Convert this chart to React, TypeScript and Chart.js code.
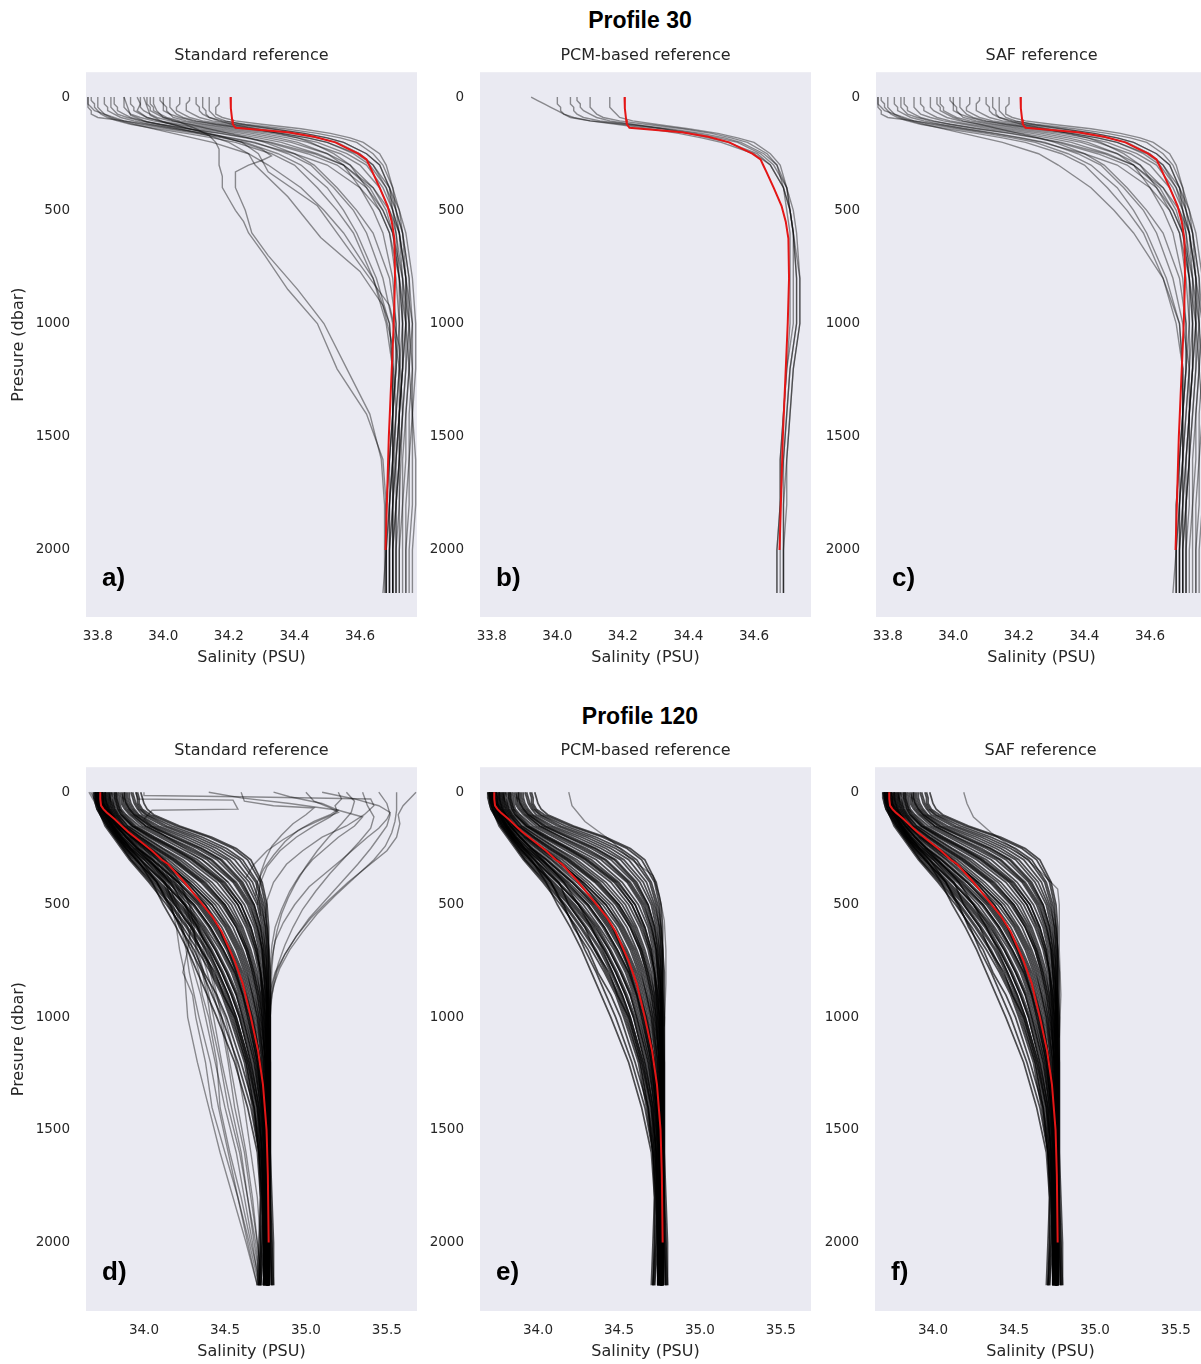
import React, { useEffect, useRef } from "react";
import { Chart, registerables } from "chart.js";

Chart.register(...registerables);

// ---------------- Axis / tick data ----------------
const X_TICKS_30 = [33.8, 34.0, 34.2, 34.4, 34.6];
const X_TICKS_120 = [34.0, 34.5, 35.0, 35.5];
const Y_TICKS = [0, 500, 1000, 1500, 2000];
const X_RANGE_30 = [33.764, 34.774];
const X_RANGE_120 = [33.642, 35.686];
const Y_RANGE_30 = [-110, 2296];
const Y_RANGE_120 = [-111, 2304];

// ---------------- Profile 30 ----------------
const P30_LEVELS = [0, 15, 30, 45, 60, 75, 90, 105, 120, 140, 160, 180, 200, 250, 300, 400, 500, 600, 800, 1000, 1200, 1400, 1600, 1800, 2000, 2190];

const P30_REF_PRES = [0, 50, 100, 120, 135, 145, 155, 175, 200, 225, 250, 275, 300, 330, 400, 480, 550, 625, 800, 1000, 1200, 1500, 1800, 2000];
const P30_REF_SAL = [34.205, 34.206, 34.21, 34.212, 34.22, 34.3, 34.38, 34.46, 34.525, 34.56, 34.595, 34.62, 34.628, 34.638, 34.66, 34.684, 34.697, 34.705, 34.707, 34.703, 34.697, 34.688, 34.682, 34.678];

// SAF reference profiles (panel c)
const P30_SAF = [
  [34.17, 34.17, 34.17, 34.16, 34.16, 34.16, 34.18, 34.22, 34.30, 34.42, 34.51, 34.57, 34.61, 34.66, 34.68, 34.70, 34.71, 34.72, 34.73, 34.73, 34.72, 34.71, 34.70, 34.70, 34.69, 34.69],
  [34.12, 34.12, 34.12, 34.12, 34.13, 34.13, 34.14, 34.18, 34.25, 34.37, 34.47, 34.54, 34.59, 34.64, 34.67, 34.70, 34.72, 34.73, 34.74, 34.74, 34.73, 34.72, 34.71, 34.71, 34.70, 34.70],
  [34.08, 34.08, 34.07, 34.07, 34.07, 34.09, 34.11, 34.15, 34.22, 34.33, 34.43, 34.50, 34.55, 34.62, 34.66, 34.69, 34.71, 34.73, 34.75, 34.75, 34.74, 34.73, 34.72, 34.72, 34.71, 34.71],
  [34.05, 34.05, 34.05, 34.04, 34.04, 34.06, 34.08, 34.12, 34.19, 34.29, 34.39, 34.47, 34.53, 34.60, 34.64, 34.68, 34.70, 34.72, 34.74, 34.76, 34.75, 34.74, 34.74, 34.73, 34.73, 34.73],
  [34.02, 34.02, 34.02, 34.02, 34.03, 34.04, 34.06, 34.10, 34.16, 34.26, 34.36, 34.44, 34.50, 34.58, 34.63, 34.68, 34.71, 34.73, 34.75, 34.76, 34.76, 34.75, 34.75, 34.74, 34.74, 34.74],
  [33.99, 33.99, 34.00, 34.00, 34.00, 34.02, 34.03, 34.07, 34.13, 34.23, 34.33, 34.41, 34.47, 34.56, 34.62, 34.67, 34.70, 34.72, 34.74, 34.74, 34.73, 34.72, 34.71, 34.70, 34.70, 34.70],
  [33.96, 33.96, 33.96, 33.97, 33.97, 33.99, 34.01, 34.05, 34.11, 34.20, 34.30, 34.38, 34.44, 34.54, 34.60, 34.66, 34.69, 34.71, 34.73, 34.74, 34.74, 34.73, 34.72, 34.71, 34.70, 34.70],
  [33.93, 33.93, 33.93, 33.93, 33.94, 33.96, 33.98, 34.02, 34.08, 34.17, 34.27, 34.35, 34.41, 34.50, 34.55, 34.60, 34.64, 34.67, 34.70, 34.71, 34.71, 34.70, 34.69, 34.69, 34.68, 34.68],
  [33.90, 33.90, 33.90, 33.91, 33.91, 33.93, 33.95, 33.99, 34.05, 34.14, 34.24, 34.32, 34.39, 34.50, 34.57, 34.64, 34.68, 34.70, 34.72, 34.73, 34.73, 34.72, 34.72, 34.71, 34.71, 34.71],
  [33.88, 33.88, 33.88, 33.88, 33.89, 33.90, 33.93, 33.97, 34.03, 34.11, 34.21, 34.29, 34.36, 34.47, 34.55, 34.63, 34.67, 34.70, 34.72, 34.74, 34.75, 34.76, 34.76, 34.76, 34.75, 34.75],
  [33.85, 33.85, 33.85, 33.86, 33.86, 33.88, 33.90, 33.94, 33.99, 34.07, 34.17, 34.25, 34.32, 34.44, 34.53, 34.62, 34.67, 34.70, 34.73, 34.75, 34.76, 34.76, 34.77, 34.77, 34.76, 34.76],
  [33.82, 33.82, 33.82, 33.83, 33.83, 33.85, 33.87, 33.91, 33.96, 34.04, 34.13, 34.21, 34.28, 34.38, 34.45, 34.52, 34.58, 34.62, 34.67, 34.70, 34.72, 34.72, 34.71, 34.70, 34.70, 34.70],
  [33.80, 33.80, 33.80, 33.80, 33.81, 33.82, 33.85, 33.88, 33.93, 34.01, 34.10, 34.18, 34.25, 34.35, 34.42, 34.50, 34.55, 34.59, 34.65, 34.69, 34.70, 34.70, 34.69, 34.68, 34.68, 34.67],
  [33.78, 33.78, 33.79, 33.79, 33.80, 33.81, 33.83, 33.86, 33.90, 33.98, 34.07, 34.15, 34.22, 34.33, 34.40, 34.47, 34.53, 34.58, 34.64, 34.68, 34.70, 34.70, 34.70, 34.69, 34.69, 34.69],
  [33.77, 33.77, 33.77, 33.78, 33.79, 33.82, 33.84, 33.87, 33.91, 33.97, 34.03, 34.09, 34.15, 34.26, 34.32, 34.42, 34.49, 34.55, 34.64, 34.69, 34.70, 34.70, 34.69, 34.68, 34.68, 34.68],
  [34.10, 34.10, 34.10, 34.11, 34.11, 34.12, 34.14, 34.17, 34.21, 34.28, 34.35, 34.41, 34.45, 34.52, 34.57, 34.62, 34.66, 34.69, 34.71, 34.72, 34.72, 34.71, 34.70, 34.70, 34.69, 34.69],
  [33.95, 33.95, 33.95, 33.96, 33.96, 33.98, 34.00, 34.03, 34.08, 34.14, 34.20, 34.26, 34.31, 34.40, 34.46, 34.53, 34.59, 34.64, 34.69, 34.71, 34.71, 34.70, 34.70, 34.69, 34.69, 34.69],
  [34.14, 34.14, 34.14, 34.14, 34.14, 34.15, 34.16, 34.19, 34.24, 34.33, 34.43, 34.50, 34.55, 34.62, 34.66, 34.69, 34.70, 34.71, 34.72, 34.72, 34.71, 34.70, 34.70, 34.69, 34.68, 34.68],
  [33.84, 33.84, 33.84, 33.84, 33.85, 33.86, 33.89, 33.93, 33.99, 34.08, 34.18, 34.26, 34.33, 34.46, 34.55, 34.64, 34.69, 34.72, 34.74, 34.75, 34.75, 34.74, 34.73, 34.73, 34.72, 34.72],
  [34.00, 34.00, 34.00, 34.01, 34.01, 34.02, 34.05, 34.09, 34.16, 34.26, 34.36, 34.44, 34.50, 34.59, 34.64, 34.69, 34.72, 34.74, 34.76, 34.77, 34.77, 34.76, 34.75, 34.75, 34.74, 34.74],
  [33.77, 33.77, 33.77, 33.77, 33.78, 33.78, 33.80, 33.88, 33.95, 34.03, 34.12, 34.20, 34.27, 34.40, 34.50, 34.60, 34.66, 34.69, 34.72, 34.73, 34.73, 34.72, 34.72, 34.71, 34.71, 34.71],
];

// Extra profiles of the standard reference (panel a) with their own pressures
const P30_STD_EXTRA_PRES = [
  [0, 30, 60, 90, 110, 140, 170, 200, 230, 260, 300, 350, 400, 450, 500, 550, 600, 700, 850, 1000, 1200, 1400, 1600, 1800, 2000, 2190],
  [0, 30, 60, 90, 110, 140, 170, 200, 230, 260, 280, 300, 330, 400, 500, 600, 700, 850, 1000, 1200, 1400, 1600, 1800, 2000, 2190],
  [0, 40, 80, 110, 140, 170, 200, 250, 300, 440, 620, 770, 920, 1100, 1400, 1800, 2190],
  [0, 40, 80, 110, 140, 170, 200, 250, 330, 480, 700, 920, 1100, 1400, 1800, 2190],
];
const P30_STD_EXTRA_SAL = [
  [33.97, 33.97, 33.98, 34.00, 34.05, 34.10, 34.14, 34.16, 34.17, 34.17, 34.17, 34.18, 34.18, 34.20, 34.22, 34.245, 34.26, 34.31, 34.38, 34.47, 34.53, 34.62, 34.67, 34.68, 34.68, 34.68],
  [33.92, 33.93, 33.92, 33.95, 34.00, 34.08, 34.16, 34.24, 34.30, 34.33, 34.30, 34.26, 34.22, 34.22, 34.25, 34.27, 34.32, 34.41, 34.49, 34.56, 34.63, 34.665, 34.675, 34.675, 34.675],
  [33.88, 33.89, 33.90, 33.95, 34.05, 34.14, 34.20, 34.26, 34.28, 34.38, 34.48, 34.60, 34.67, 34.70, 34.71, 34.70, 34.70],
  [33.94, 33.95, 33.96, 34.00, 34.08, 34.17, 34.24, 34.29, 34.32, 34.47, 34.58, 34.69, 34.72, 34.73, 34.72, 34.72],
];

// PCM-based reference profiles (panel b)
const P30_PCM = [
  [33.92, 33.94, 33.96, 33.98, 34.00, 34.02, 34.05, 34.10, 34.18, 34.28, 34.37, 34.44, 34.50, 34.60, 34.65, 34.69, 34.71, 34.72, 34.73, 34.73, 34.71, 34.70, 34.69, 34.69, 34.69, 34.69],
  [34.00, 34.00, 34.00, 34.01, 34.01, 34.02, 34.04, 34.10, 34.20, 34.32, 34.42, 34.49, 34.55, 34.62, 34.66, 34.70, 34.72, 34.73, 34.74, 34.74, 34.72, 34.71, 34.70, 34.70, 34.69, 34.69],
  [34.04, 34.04, 34.04, 34.05, 34.05, 34.06, 34.08, 34.13, 34.22, 34.34, 34.44, 34.51, 34.56, 34.63, 34.67, 34.70, 34.71, 34.72, 34.73, 34.73, 34.71, 34.70, 34.69, 34.68, 34.68, 34.68],
  [34.10, 34.10, 34.10, 34.10, 34.11, 34.12, 34.14, 34.19, 34.27, 34.38, 34.47, 34.53, 34.58, 34.64, 34.67, 34.69, 34.70, 34.71, 34.71, 34.71, 34.70, 34.69, 34.68, 34.68, 34.67, 34.67],
  [34.16, 34.16, 34.16, 34.16, 34.17, 34.18, 34.19, 34.23, 34.30, 34.40, 34.49, 34.55, 34.60, 34.65, 34.68, 34.70, 34.71, 34.72, 34.74, 34.74, 34.72, 34.71, 34.70, 34.69, 34.69, 34.69],
  [34.06, 34.06, 34.07, 34.07, 34.08, 34.10, 34.12, 34.16, 34.23, 34.32, 34.40, 34.46, 34.52, 34.61, 34.65, 34.69, 34.71, 34.72, 34.72, 34.72, 34.70, 34.69, 34.68, 34.68, 34.67, 34.67],
];

// ---------------- Profile 120 ----------------
const P120_LEVELS = [0, 25, 50, 75, 100, 150, 200, 250, 300, 400, 500, 600, 700, 800, 900, 1000, 1200, 1400, 1600, 1800, 2000, 2190];

const P120_REF_PRES = [0, 30, 60, 75, 90, 120, 155, 175, 220, 260, 300, 320, 400, 470, 550, 620, 750, 850, 925, 1000, 1150, 1300, 1500, 1700, 2000];
const P120_REF_SAL = [33.73, 33.73, 33.735, 33.75, 33.77, 33.82, 33.87, 33.90, 33.98, 34.05, 34.11, 34.15, 34.25, 34.33, 34.42, 34.48, 34.56, 34.61, 34.635, 34.66, 34.705, 34.735, 34.757, 34.765, 34.77];

// Main bundle shared by the three references of profile 120 (panels d, e, f)
const P120_BUNDLE = [
  [33.98, 33.99, 34.00, 34.02, 34.06, 34.22, 34.42, 34.57, 34.66, 34.73, 34.76, 34.77, 34.77, 34.78, 34.78, 34.78, 34.78, 34.78, 34.78, 34.79, 34.80, 34.80],
  [33.95, 33.96, 33.96, 33.98, 34.02, 34.17, 34.36, 34.51, 34.61, 34.70, 34.74, 34.76, 34.77, 34.77, 34.77, 34.78, 34.78, 34.78, 34.78, 34.78, 34.79, 34.79],
  [33.92, 33.93, 33.94, 33.96, 33.99, 34.12, 34.30, 34.45, 34.56, 34.67, 34.72, 34.75, 34.76, 34.77, 34.77, 34.77, 34.78, 34.78, 34.78, 34.78, 34.77, 34.77],
  [33.90, 33.90, 33.91, 33.93, 33.96, 34.07, 34.24, 34.39, 34.51, 34.63, 34.70, 34.73, 34.75, 34.76, 34.76, 34.77, 34.77, 34.77, 34.77, 34.77, 34.77, 34.77],
  [33.88, 33.88, 33.89, 33.91, 33.94, 34.03, 34.18, 34.33, 34.45, 34.59, 34.67, 34.71, 34.73, 34.75, 34.76, 34.76, 34.77, 34.77, 34.77, 34.77, 34.77, 34.77],
  [33.85, 33.86, 33.86, 33.88, 33.91, 33.99, 34.12, 34.26, 34.39, 34.55, 34.64, 34.69, 34.72, 34.74, 34.75, 34.76, 34.77, 34.77, 34.77, 34.77, 34.77, 34.77],
  [33.83, 33.84, 33.84, 33.85, 33.88, 33.95, 34.07, 34.20, 34.33, 34.50, 34.60, 34.66, 34.70, 34.72, 34.74, 34.75, 34.76, 34.77, 34.77, 34.77, 34.77, 34.77],
  [33.81, 33.82, 33.82, 33.83, 33.85, 33.92, 34.03, 34.15, 34.27, 34.45, 34.56, 34.63, 34.68, 34.71, 34.73, 34.74, 34.76, 34.76, 34.77, 34.77, 34.77, 34.77],
  [33.80, 33.80, 33.81, 33.82, 33.84, 33.90, 34.00, 34.11, 34.22, 34.40, 34.52, 34.60, 34.65, 34.69, 34.72, 34.73, 34.75, 34.76, 34.76, 34.77, 34.77, 34.77],
  [33.78, 33.78, 33.79, 33.80, 33.82, 33.87, 33.96, 34.06, 34.17, 34.35, 34.48, 34.57, 34.63, 34.67, 34.70, 34.72, 34.75, 34.76, 34.76, 34.76, 34.76, 34.76],
  [33.77, 33.77, 33.78, 33.79, 33.81, 33.85, 33.93, 34.03, 34.13, 34.30, 34.44, 34.53, 34.60, 34.65, 34.68, 34.71, 34.74, 34.75, 34.76, 34.76, 34.76, 34.76],
  [33.76, 33.76, 33.77, 33.78, 33.80, 33.84, 33.91, 34.00, 34.09, 34.26, 34.40, 34.50, 34.57, 34.62, 34.66, 34.69, 34.73, 34.75, 34.76, 34.76, 34.76, 34.76],
  [33.75, 33.75, 33.76, 33.77, 33.79, 33.83, 33.89, 33.97, 34.06, 34.22, 34.36, 34.46, 34.54, 34.60, 34.64, 34.67, 34.72, 34.74, 34.75, 34.76, 34.76, 34.76],
  [33.74, 33.74, 33.75, 33.76, 33.78, 33.82, 33.88, 33.95, 34.03, 34.19, 34.33, 34.43, 34.51, 34.57, 34.62, 34.66, 34.71, 34.74, 34.75, 34.76, 34.76, 34.76],
  [33.73, 33.73, 33.74, 33.75, 33.77, 33.81, 33.86, 33.93, 34.01, 34.16, 34.30, 34.40, 34.48, 34.55, 34.60, 34.64, 34.70, 34.73, 34.75, 34.75, 34.76, 34.76],
  [33.72, 33.72, 33.73, 33.74, 33.76, 33.80, 33.85, 33.91, 33.98, 34.13, 34.26, 34.37, 34.45, 34.52, 34.58, 34.62, 34.69, 34.72, 34.74, 34.74, 34.73, 34.71],
  [33.71, 33.72, 33.72, 33.73, 33.75, 33.79, 33.84, 33.90, 33.96, 34.10, 34.23, 34.34, 34.42, 34.49, 34.55, 34.60, 34.67, 34.71, 34.73, 34.74, 34.75, 34.75],
  [33.70, 33.71, 33.71, 33.72, 33.74, 33.78, 33.83, 33.88, 33.94, 34.07, 34.20, 34.30, 34.39, 34.46, 34.52, 34.57, 34.65, 34.70, 34.72, 34.74, 34.75, 34.75],
  [33.70, 33.70, 33.71, 33.72, 33.73, 33.77, 33.82, 33.87, 33.92, 34.05, 34.17, 34.27, 34.36, 34.43, 34.50, 34.55, 34.63, 34.68, 34.71, 34.73, 34.74, 34.74],
  [33.69, 33.69, 33.70, 33.71, 33.73, 33.76, 33.81, 33.86, 33.91, 34.03, 34.14, 34.24, 34.33, 34.41, 34.48, 34.53, 34.62, 34.67, 34.71, 34.72, 34.71, 34.70],
  [33.87, 33.87, 33.88, 33.90, 33.93, 34.01, 34.15, 34.30, 34.42, 34.57, 34.66, 34.70, 34.73, 34.74, 34.75, 34.76, 34.77, 34.77, 34.77, 34.77, 34.78, 34.79],
  [33.82, 33.83, 33.83, 33.84, 33.86, 33.93, 34.05, 34.18, 34.30, 34.48, 34.58, 34.65, 34.69, 34.72, 34.73, 34.75, 34.76, 34.76, 34.77, 34.77, 34.77, 34.77],
  [33.79, 33.79, 33.80, 33.81, 33.83, 33.88, 33.98, 34.09, 34.20, 34.38, 34.50, 34.59, 34.64, 34.68, 34.71, 34.73, 34.75, 34.76, 34.76, 34.76, 34.76, 34.76],
  [33.76, 33.77, 33.77, 33.78, 33.80, 33.85, 33.92, 34.02, 34.11, 34.28, 34.42, 34.52, 34.59, 34.64, 34.67, 34.70, 34.74, 34.75, 34.76, 34.76, 34.76, 34.76],
  [33.74, 33.75, 33.75, 33.76, 33.78, 33.83, 33.89, 33.96, 34.05, 34.21, 34.35, 34.45, 34.53, 34.59, 34.63, 34.67, 34.72, 34.74, 34.75, 34.76, 34.76, 34.76],
  [33.73, 33.73, 33.74, 33.75, 33.77, 33.81, 33.87, 33.94, 34.02, 34.17, 34.31, 34.41, 34.49, 34.56, 34.61, 34.65, 34.71, 34.73, 34.75, 34.75, 34.75, 34.75],
  [33.71, 33.71, 33.72, 33.73, 33.75, 33.79, 33.84, 33.91, 33.97, 34.12, 34.25, 34.35, 34.44, 34.51, 34.57, 34.61, 34.68, 34.72, 34.74, 34.74, 34.73, 34.72],
  [33.70, 33.70, 33.71, 33.72, 33.74, 33.78, 33.83, 33.89, 33.95, 34.08, 34.21, 34.32, 34.41, 34.48, 34.54, 34.59, 34.66, 34.71, 34.73, 34.74, 34.74, 34.74],
  [33.72, 33.72, 33.74, 33.75, 33.77, 33.80, 33.84, 33.89, 33.95, 34.08, 34.16, 34.22, 34.31, 34.37, 34.45, 34.51, 34.60, 34.68, 34.72, 34.74, 34.75, 34.75],
  [33.70, 33.71, 33.72, 33.74, 33.76, 33.80, 33.86, 33.92, 34.00, 34.13, 34.19, 34.29, 34.35, 34.44, 34.49, 34.56, 34.64, 34.70, 34.73, 34.74, 34.75, 34.75],
  [33.96, 33.97, 33.97, 33.99, 34.04, 34.20, 34.40, 34.55, 34.64, 34.72, 34.75, 34.76, 34.77, 34.77, 34.77, 34.77, 34.77, 34.77, 34.77, 34.78, 34.79, 34.80],
  [33.93, 33.94, 33.95, 33.97, 34.01, 34.14, 34.33, 34.48, 34.59, 34.69, 34.73, 34.75, 34.76, 34.76, 34.77, 34.77, 34.77, 34.77, 34.77, 34.77, 34.77, 34.76],
  [33.91, 33.91, 33.92, 33.94, 33.97, 34.09, 34.27, 34.42, 34.53, 34.65, 34.71, 34.74, 34.75, 34.76, 34.76, 34.76, 34.77, 34.77, 34.77, 34.77, 34.77, 34.77],
  [33.89, 33.89, 33.90, 33.92, 33.95, 34.05, 34.21, 34.36, 34.48, 34.61, 34.68, 34.72, 34.74, 34.75, 34.76, 34.76, 34.77, 34.77, 34.77, 34.77, 34.77, 34.76],
  [33.86, 33.87, 33.87, 33.89, 33.92, 34.01, 34.14, 34.28, 34.41, 34.56, 34.65, 34.70, 34.73, 34.74, 34.75, 34.76, 34.76, 34.77, 34.77, 34.77, 34.77, 34.77],
  [33.84, 33.85, 33.85, 33.86, 33.89, 33.97, 34.10, 34.23, 34.36, 34.52, 34.62, 34.68, 34.71, 34.73, 34.74, 34.75, 34.76, 34.77, 34.77, 34.77, 34.77, 34.77],
  [33.82, 33.82, 33.83, 33.84, 33.86, 33.93, 34.04, 34.17, 34.29, 34.47, 34.58, 34.64, 34.69, 34.72, 34.73, 34.74, 34.76, 34.76, 34.77, 34.77, 34.77, 34.76],
  [33.80, 33.81, 33.81, 33.82, 33.84, 33.90, 34.01, 34.12, 34.24, 34.42, 34.54, 34.61, 34.66, 34.70, 34.72, 34.74, 34.75, 34.76, 34.76, 34.77, 34.77, 34.77],
  [33.79, 33.79, 33.80, 33.81, 33.83, 33.89, 33.98, 34.08, 34.19, 34.37, 34.50, 34.58, 34.64, 34.68, 34.71, 34.73, 34.75, 34.76, 34.76, 34.76, 34.76, 34.76],
  [33.77, 33.78, 33.78, 33.79, 33.81, 33.86, 33.94, 34.04, 34.15, 34.32, 34.46, 34.55, 34.61, 34.66, 34.69, 34.71, 34.74, 34.75, 34.76, 34.76, 34.76, 34.76],
  [33.76, 33.76, 33.77, 33.78, 33.80, 33.85, 33.92, 34.01, 34.11, 34.28, 34.42, 34.51, 34.58, 34.63, 34.67, 34.70, 34.73, 34.75, 34.76, 34.76, 34.76, 34.75],
  [33.75, 33.76, 33.76, 33.77, 33.79, 33.84, 33.90, 33.99, 34.08, 34.24, 34.38, 34.48, 34.55, 34.61, 34.65, 34.68, 34.72, 34.74, 34.75, 34.76, 34.76, 34.76],
  [33.74, 33.75, 33.75, 33.76, 33.78, 33.83, 33.89, 33.96, 34.05, 34.21, 34.34, 34.44, 34.52, 34.58, 34.63, 34.66, 34.71, 34.74, 34.75, 34.75, 34.74, 34.72],
  [33.73, 33.74, 33.74, 33.75, 33.77, 33.82, 33.87, 33.94, 34.02, 34.18, 34.31, 34.41, 34.49, 34.56, 34.61, 34.65, 34.70, 34.73, 34.75, 34.75, 34.75, 34.75],
  [33.72, 33.73, 33.73, 33.74, 33.76, 33.81, 33.86, 33.92, 34.00, 34.15, 34.28, 34.38, 34.47, 34.54, 34.59, 34.63, 34.69, 34.73, 34.74, 34.75, 34.75, 34.75],
  [33.72, 33.72, 33.73, 33.74, 33.76, 33.80, 33.85, 33.91, 33.98, 34.12, 34.25, 34.36, 34.44, 34.51, 34.57, 34.61, 34.68, 34.72, 34.74, 34.75, 34.75, 34.74],
  [33.71, 33.71, 33.72, 33.73, 33.75, 33.79, 33.84, 33.89, 33.95, 34.09, 34.22, 34.33, 34.41, 34.48, 34.54, 34.59, 34.66, 34.71, 34.73, 34.73, 34.72, 34.71],
  [33.70, 33.70, 33.71, 33.72, 33.74, 33.78, 33.83, 33.88, 33.93, 34.06, 34.19, 34.29, 34.38, 34.45, 34.51, 34.56, 34.64, 34.69, 34.72, 34.74, 34.74, 34.74],
  [33.69, 33.70, 33.70, 33.71, 33.73, 33.77, 33.82, 33.87, 33.92, 34.04, 34.16, 34.26, 34.35, 34.42, 34.49, 34.54, 34.63, 34.68, 34.71, 34.73, 34.74, 34.74],
  [33.71, 33.72, 33.73, 33.75, 33.78, 33.83, 33.89, 33.96, 34.03, 34.16, 34.25, 34.33, 34.40, 34.46, 34.52, 34.57, 34.65, 34.70, 34.73, 34.74, 34.75, 34.75],
  [33.74, 33.74, 33.75, 33.77, 33.80, 33.86, 33.94, 34.03, 34.12, 34.27, 34.38, 34.46, 34.52, 34.57, 34.61, 34.64, 34.70, 34.73, 34.75, 34.76, 34.76, 34.76],
  [33.78, 33.79, 33.79, 33.80, 33.82, 33.88, 33.97, 34.07, 34.18, 34.36, 34.49, 34.57, 34.63, 34.67, 34.70, 34.72, 34.75, 34.76, 34.76, 34.77, 34.78, 34.79],
  [33.83, 33.83, 33.84, 33.85, 33.87, 33.94, 34.06, 34.19, 34.31, 34.49, 34.60, 34.66, 34.70, 34.72, 34.74, 34.75, 34.76, 34.77, 34.77, 34.77, 34.77, 34.77],
  [33.88, 33.88, 33.89, 33.91, 33.94, 34.04, 34.19, 34.35, 34.47, 34.60, 34.68, 34.72, 34.74, 34.75, 34.76, 34.77, 34.77, 34.77, 34.77, 34.78, 34.78, 34.78],
  [33.70, 33.71, 33.72, 33.74, 33.76, 33.80, 33.85, 33.90, 33.96, 34.05, 34.12, 34.20, 34.27, 34.33, 34.39, 34.45, 34.56, 34.64, 34.70, 34.72, 34.72, 34.71],
  [33.72, 33.72, 33.73, 33.75, 33.77, 33.81, 33.86, 33.92, 33.98, 34.08, 34.15, 34.23, 34.29, 34.36, 34.42, 34.48, 34.58, 34.66, 34.71, 34.73, 34.74, 34.74],
];

// Extra low-salinity profiles of the standard reference (panel d)
const P120_STD_LOW = [
  [33.66, 33.68, 33.70, 33.73, 33.76, 33.83, 33.90, 33.97, 34.04, 34.12, 34.17, 34.20, 34.22, 34.25, 34.26, 34.27, 34.33, 34.40, 34.47, 34.55, 34.63, 34.70],
  [33.74, 33.74, 33.75, 33.77, 33.80, 33.86, 33.94, 34.02, 34.08, 34.15, 34.20, 34.24, 34.27, 34.24, 34.30, 34.32, 34.38, 34.42, 34.50, 34.58, 34.65, 34.71],
  [33.67, 33.69, 33.71, 33.74, 33.77, 33.84, 33.92, 34.00, 34.06, 34.14, 34.21, 34.27, 34.30, 34.34, 34.36, 34.40, 34.45, 34.47, 34.53, 34.60, 34.66, 34.72],
  [33.76, 33.76, 33.77, 33.79, 33.81, 33.87, 33.95, 34.04, 34.11, 34.20, 34.26, 34.30, 34.33, 34.37, 34.40, 34.43, 34.48, 34.54, 34.60, 34.64, 34.68, 34.72],
  [33.73, 33.73, 33.74, 33.75, 33.78, 33.85, 33.93, 34.01, 34.09, 34.17, 34.24, 34.29, 34.27, 34.31, 34.35, 34.38, 34.44, 34.50, 34.57, 34.62, 34.67, 34.71],
  [33.75, 33.75, 33.76, 33.78, 33.80, 33.86, 33.96, 34.05, 34.13, 34.22, 34.29, 34.34, 34.38, 34.42, 34.45, 34.48, 34.53, 34.58, 34.63, 34.67, 34.70, 34.73],
  [33.71, 33.72, 33.73, 33.75, 33.78, 33.84, 33.93, 34.02, 34.10, 34.19, 34.25, 34.30, 34.35, 34.39, 34.43, 34.47, 34.52, 34.56, 34.62, 34.66, 34.70, 34.73],
  [33.74, 33.75, 33.75, 33.77, 33.79, 33.85, 33.94, 34.03, 34.11, 34.21, 34.28, 34.33, 34.37, 34.41, 34.44, 34.50, 34.57, 34.62, 34.66, 34.70, 34.72, 34.74],
  [33.68, 33.69, 33.71, 33.73, 33.76, 33.82, 33.90, 33.98, 34.05, 34.13, 34.18, 34.23, 34.26, 34.28, 34.31, 34.34, 34.41, 34.46, 34.52, 34.58, 34.64, 34.70],
  [33.72, 33.73, 33.74, 33.76, 33.79, 33.86, 33.95, 34.04, 34.12, 34.22, 34.28, 34.31, 34.32, 34.36, 34.39, 34.41, 34.47, 34.52, 34.59, 34.64, 34.69, 34.72],
];

// High-salinity surface profiles of the standard reference (panel d)
const P120_STD_HIGH_PRES = [
  [0, 40, 80, 130, 180, 240, 300, 380, 460, 540, 620, 700, 780, 860, 950, 1200, 1600, 2190],
  [0, 30, 60, 100, 140, 200, 260, 330, 400, 480, 560, 640, 720, 800, 880, 1200, 1600, 2190],
  [0, 30, 60, 90, 120, 160, 200, 250, 300, 360, 420, 500, 580, 660, 740, 820, 1000],
  [0, 25, 50, 80, 110, 150, 200, 250, 300, 370, 440, 520, 600, 680, 760, 1000],
  [0, 30, 60, 80, 100, 130, 170, 220, 280, 340, 400, 460],
  [0, 40, 70, 90, 120, 160, 210, 260, 320, 380],
  [0, 20, 50, 80, 110, 150, 200, 260, 330, 400, 500],
  [0, 15, 20, 30, 60, 100, 150, 200, 260, 320, 400, 480, 560],
  [0, 40, 60, 70, 100, 140, 190, 240, 300, 360, 450, 550],
  [0, 30, 35, 75, 80, 120, 180, 250, 320, 400],
  [0, 50, 100, 150, 200, 250, 320, 400, 480, 560, 640, 720, 800, 900, 1000, 1400, 2190],
  [0, 60, 110, 160, 220, 290, 360, 440, 520, 600, 680, 760, 840, 920, 1000, 1500, 2190],
  [0, 40, 90, 140, 200, 260, 330, 400, 470, 540, 620, 700, 780, 1000],
];
const P120_STD_HIGH_SAL = [
  [35.56, 35.56, 35.56, 35.55, 35.53, 35.49, 35.42, 35.30, 35.18, 35.07, 34.98, 34.90, 34.84, 34.80, 34.78, 34.78, 34.78, 34.77],
  [35.68, 35.64, 35.60, 35.57, 35.58, 35.56, 35.50, 35.38, 35.26, 35.14, 35.03, 34.94, 34.87, 34.81, 34.78, 34.78, 34.78, 34.77],
  [35.10, 35.30, 35.45, 35.52, 35.50, 35.45, 35.38, 35.30, 35.22, 35.12, 35.02, 34.93, 34.86, 34.81, 34.79, 34.78, 34.78],
  [34.40, 34.60, 34.90, 35.20, 35.35, 35.30, 35.20, 35.12, 35.04, 34.96, 34.90, 34.85, 34.81, 34.79, 34.78, 34.78],
  [35.20, 35.22, 35.18, 35.19, 35.15, 35.05, 34.95, 34.87, 34.80, 34.74, 34.70, 34.69],
  [35.00, 35.05, 35.15, 35.20, 35.10, 34.98, 34.86, 34.76, 34.68, 34.63],
  [34.80, 34.90, 35.10, 35.20, 35.15, 35.05, 34.94, 34.84, 34.76, 34.72, 34.70],
  [34.00, 34.00, 34.60, 35.40, 35.42, 35.36, 35.25, 35.10, 34.98, 34.88, 34.80, 34.76, 34.75],
  [34.60, 34.62, 34.80, 35.05, 35.00, 34.92, 34.85, 34.79, 34.75, 34.72, 34.71, 34.72],
  [33.95, 33.96, 34.55, 34.58, 34.05, 34.00, 34.10, 34.25, 34.40, 34.52],
  [35.45, 35.50, 35.52, 35.50, 35.45, 35.40, 35.32, 35.22, 35.12, 35.02, 34.94, 34.87, 34.82, 34.79, 34.78, 34.78, 34.77],
  [35.35, 35.38, 35.42, 35.40, 35.33, 35.24, 35.15, 35.06, 34.98, 34.92, 34.87, 34.83, 34.80, 34.78, 34.78, 34.77, 34.77],
  [35.25, 35.30, 35.28, 35.22, 35.14, 35.07, 35.00, 34.94, 34.89, 34.85, 34.82, 34.80, 34.79, 34.78],
];

// Single short outlier profiles in panels e and f
const P120_PCM_OUT_PRES = [0, 60, 130, 220, 290, 370, 460, 570, 700, 850, 1040];
const P120_PCM_OUT_SAL = [34.19, 34.21, 34.29, 34.46, 34.56, 34.71, 34.75, 34.78, 34.79, 34.79, 34.78];
const P120_SAF_OUT_PRES = [0, 50, 110, 180, 250, 350, 430, 500, 700, 900, 1090];
const P120_SAF_OUT_SAL = [34.19, 34.21, 34.25, 34.36, 34.50, 34.66, 34.77, 34.78, 34.78, 34.79, 34.78];

// ---------------- Styling / layout ----------------
const FONT = "'DejaVu Sans', sans-serif";
const TEXT = "#262626";
const PLOT_BG = "#eaeaf2";
const GREY = "rgba(0,0,0,0.42)";
const DARK = "rgba(0,0,0,0.68)";
const RED = "rgb(228,22,22)";
const Y_AXIS_W = 80;
const X_AXIS_H = 54;
const TITLE_H = 26;
const PLOT_W = 327;

type Line = { pres: number[]; sal: number[]; color: string; width: number };

const onLevels = (levels: number[], profiles: number[][], color = GREY, width = 1.4): Line[] =>
  profiles.map((sal) => ({ pres: levels, sal, color, width }));
const paired = (pres: number[][], sal: number[][], color = GREY, width = 1.4): Line[] =>
  pres.map((p, i) => ({ pres: p, sal: sal[i], color, width }));

type PanelCfg = {
  title: string;
  letter: string;
  plotLeft: number;
  plotTop: number;
  plotH: number;
  xRange: number[];
  xTicks: number[];
  yRange: number[];
  showYTitle: boolean;
  lines: Line[];
  ref: { pres: number[]; sal: number[] };
};

const REF30 = { pres: P30_REF_PRES, sal: P30_REF_SAL };
const REF120 = { pres: P120_REF_PRES, sal: P120_REF_SAL };

const PANELS: PanelCfg[] = [
  {
    title: "Standard reference", letter: "a)", plotLeft: 86, plotTop: 72, plotH: 545,
    xRange: X_RANGE_30, xTicks: X_TICKS_30, yRange: Y_RANGE_30, showYTitle: true,
    lines: [...onLevels(P30_LEVELS, P30_SAF), ...paired(P30_STD_EXTRA_PRES, P30_STD_EXTRA_SAL)],
    ref: REF30,
  },
  {
    title: "PCM-based reference", letter: "b)", plotLeft: 480, plotTop: 72, plotH: 545,
    xRange: X_RANGE_30, xTicks: X_TICKS_30, yRange: Y_RANGE_30, showYTitle: false,
    lines: onLevels(P30_LEVELS, P30_PCM),
    ref: REF30,
  },
  {
    title: "SAF reference", letter: "c)", plotLeft: 876, plotTop: 72, plotH: 545,
    xRange: X_RANGE_30, xTicks: X_TICKS_30, yRange: Y_RANGE_30, showYTitle: false,
    lines: onLevels(P30_LEVELS, P30_SAF),
    ref: REF30,
  },
  {
    title: "Standard reference", letter: "d)", plotLeft: 86, plotTop: 767, plotH: 544,
    xRange: X_RANGE_120, xTicks: X_TICKS_120, yRange: Y_RANGE_120, showYTitle: true,
    lines: [
      ...onLevels(P120_LEVELS, P120_BUNDLE, DARK, 1.7),
      ...onLevels(P120_LEVELS, P120_STD_LOW, GREY, 1.4),
      ...paired(P120_STD_HIGH_PRES, P120_STD_HIGH_SAL, GREY, 1.4),
    ],
    ref: REF120,
  },
  {
    title: "PCM-based reference", letter: "e)", plotLeft: 480, plotTop: 767, plotH: 544,
    xRange: X_RANGE_120, xTicks: X_TICKS_120, yRange: Y_RANGE_120, showYTitle: false,
    lines: [
      ...onLevels(P120_LEVELS, P120_BUNDLE, DARK, 1.7),
      { pres: P120_PCM_OUT_PRES, sal: P120_PCM_OUT_SAL, color: GREY, width: 1.4 },
    ],
    ref: REF120,
  },
  {
    title: "SAF reference", letter: "f)", plotLeft: 875, plotTop: 767, plotH: 544,
    xRange: X_RANGE_120, xTicks: X_TICKS_120, yRange: Y_RANGE_120, showYTitle: false,
    lines: [
      ...onLevels(P120_LEVELS, P120_BUNDLE, DARK, 1.7),
      { pres: P120_SAF_OUT_PRES, sal: P120_SAF_OUT_SAL, color: GREY, width: 1.4 },
    ],
    ref: REF120,
  },
];

const plotBgPlugin = {
  id: "plotBg",
  beforeDraw(chart: any) {
    const { ctx, chartArea: a } = chart;
    ctx.save();
    ctx.fillStyle = PLOT_BG;
    ctx.fillRect(a.left, a.top, a.right - a.left, a.bottom - a.top);
    ctx.restore();
  },
};

function Panel({ cfg }: { cfg: PanelCfg }) {
  const ref = useRef<HTMLCanvasElement>(null);
  const w = Y_AXIS_W + PLOT_W + 4;
  const h = TITLE_H + cfg.plotH + X_AXIS_H;
  const left = cfg.plotLeft - Y_AXIS_W;
  const top = cfg.plotTop - TITLE_H;

  useEffect(() => {
    const toData = (l: { pres: number[]; sal: number[] }) =>
      l.pres.map((p, i) => ({ x: l.sal[i], y: p }));
    const datasets: any[] = [
      {
        data: toData(cfg.ref),
        borderColor: RED,
        borderWidth: 2,
        pointRadius: 0,
        showLine: true,
        order: -1,
      },
      ...cfg.lines.map((l) => ({
        data: toData(l),
        borderColor: l.color,
        borderWidth: l.width,
        pointRadius: 0,
        showLine: true,
        order: 0,
      })),
    ];
    const tickFont = { family: FONT, size: 13.5 };
    const labelFont = { family: FONT, size: 16 };
    const chart = new Chart(ref.current as HTMLCanvasElement, {
      type: "scatter",
      data: { datasets },
      plugins: [plotBgPlugin],
      options: {
        animation: false,
        responsive: false,
        devicePixelRatio: 1,
        layout: { padding: 0 },
        elements: { line: { tension: 0 } },
        plugins: {
          legend: { display: false },
          tooltip: { enabled: false },
          title: {
            display: true,
            text: cfg.title,
            fullSize: false,
            color: TEXT,
            font: { family: FONT, size: 16, weight: "normal" },
            padding: { top: 0, bottom: 7 },
          },
        },
        scales: {
          x: {
            type: "linear",
            position: "bottom",
            min: cfg.xRange[0],
            max: cfg.xRange[1],
            grid: { display: false, drawTicks: false },
            border: { display: false },
            ticks: {
              color: TEXT,
              font: tickFont,
              padding: 11,
              maxRotation: 0,
              autoSkip: false,
              callback: (v: any) => Number(v).toFixed(1),
            },
            afterBuildTicks: (s: any) => {
              s.ticks = cfg.xTicks.map((v) => ({ value: v }));
            },
            afterFit: (s: any) => {
              s.height = X_AXIS_H;
            },
            title: {
              display: true,
              text: "Salinity (PSU)",
              color: TEXT,
              font: labelFont,
              padding: { top: 4, bottom: 4 },
            },
          },
          y: {
            type: "linear",
            reverse: true,
            min: cfg.yRange[0],
            max: cfg.yRange[1],
            grid: { display: false, drawTicks: false },
            border: { display: false },
            ticks: {
              color: TEXT,
              font: tickFont,
              padding: 16,
              autoSkip: false,
              callback: (v: any) => String(v),
            },
            afterBuildTicks: (s: any) => {
              s.ticks = Y_TICKS.map((v) => ({ value: v }));
            },
            afterFit: (s: any) => {
              s.width = Y_AXIS_W;
            },
            title: {
              display: cfg.showYTitle,
              text: "Presure (dbar)",
              color: TEXT,
              font: labelFont,
              padding: { top: 3, bottom: 0 },
            },
          },
        },
      } as any,
    });
    return () => chart.destroy();
  }, [cfg]);

  return (
    <>
      <canvas
        ref={ref}
        width={w}
        height={h}
        style={{ position: "absolute", left, top, width: w, height: h }}
      />
      <div
        style={{
          position: "absolute",
          left: cfg.plotLeft + 16,
          top: cfg.plotTop + cfg.plotH - 53,
          font: "bold 26px 'Liberation Sans', Arial, sans-serif",
          lineHeight: "26px",
          color: "#000",
        }}
      >
        {cfg.letter}
      </div>
    </>
  );
}

const SUPER_TITLES = [
  { text: "Profile 30", top: 9 },
  { text: "Profile 120", top: 705 },
];

export default function App() {
  return (
    <div
      style={{
        position: "absolute",
        left: 0,
        top: 0,
        width: 1201,
        height: 1364,
        overflow: "hidden",
        background: "#ffffff",
      }}
    >
      {SUPER_TITLES.map((t) => (
        <div
          key={t.text}
          style={{
            position: "absolute",
            left: 0,
            width: 1280,
            top: t.top,
            textAlign: "center",
            font: "bold 23px 'Liberation Sans', Arial, sans-serif",
            lineHeight: "23px",
            color: "#000",
          }}
        >
          {t.text}
        </div>
      ))}
      {PANELS.map((p, i) => (
        <Panel key={i} cfg={p} />
      ))}
    </div>
  );
}
